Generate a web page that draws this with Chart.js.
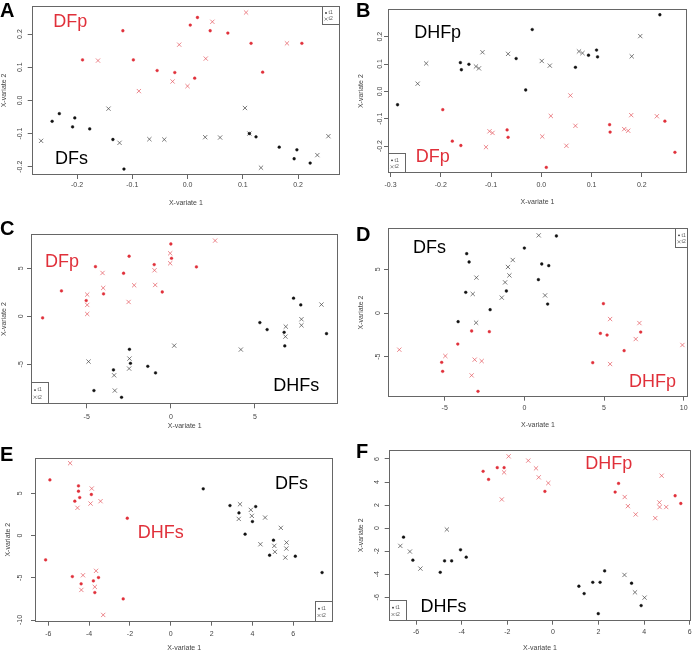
<!DOCTYPE html>
<html>
<head>
<meta charset="utf-8">
<script src="https://cdn.jsdelivr.net/npm/chart.js@4.4.1/dist/chart.umd.min.js"></script>
<style>
	body { margin: 0; background: #fff; width: 696px; height: 652px; position: relative; overflow: hidden; font-family: "Liberation Sans", Arial, sans-serif; }
	.panel { position: absolute; }
	.letter { position: absolute; font: bold 20px/20px "Liberation Sans", Arial, sans-serif; color: #000; }
</style>
</head>
<body>
<div class="panel" style="left:0;top:0"><canvas id="chartA" width="348" height="215"></canvas></div>
<div class="panel" style="left:348px;top:0"><canvas id="chartB" width="348" height="215"></canvas></div>
<div class="panel" style="left:0;top:215px"><canvas id="chartC" width="348" height="215"></canvas></div>
<div class="panel" style="left:348px;top:215px"><canvas id="chartD" width="348" height="215"></canvas></div>
<div class="panel" style="left:0;top:430px"><canvas id="chartE" width="348" height="222"></canvas></div>
<div class="panel" style="left:348px;top:430px"><canvas id="chartF" width="348" height="222"></canvas></div>
<div class="letter" style="left:0;top:0">A</div>
<div class="letter" style="left:356px;top:0">B</div>
<div class="letter" style="left:0;top:218px">C</div>
<div class="letter" style="left:356px;top:224px">D</div>
<div class="letter" style="left:0;top:444px">E</div>
<div class="letter" style="left:356px;top:441px">F</div>
<script>
// ---- data: [x-variate 1, x-variate 2] per sample ----
const aRedT1 = [[-0.19,0.122],[-0.117,0.21],[-0.098,0.122],[-0.055,0.09],[-0.023,0.084],[0.005,0.227],[0.013,0.067],[0.018,0.25],[0.041,0.21],[0.073,0.203],[0.115,0.172],[0.136,0.085],[0.207,0.172]];
const aRedT2 = [[-0.162,0.12],[-0.088,0.028],[-0.027,0.057],[-0.015,0.168],[0.0,0.043],[0.033,0.126],[0.045,0.237],[0.106,0.265],[0.18,0.172]];
const aBlackT1 = [[-0.245,-0.063],[-0.232,-0.04],[-0.208,-0.08],[-0.204,-0.053],[-0.177,-0.086],[-0.135,-0.118],[-0.115,-0.207],[0.112,-0.1],[0.124,-0.11],[0.166,-0.141],[0.198,-0.149],[0.193,-0.176],[0.222,-0.189]];
const aBlackT2 = [[-0.265,-0.122],[-0.143,-0.025],[-0.123,-0.128],[-0.069,-0.117],[-0.042,-0.118],[0.032,-0.111],[0.059,-0.112],[0.104,-0.023],[0.112,-0.1],[0.133,-0.203],[0.235,-0.165],[0.255,-0.108]];

const bBlackT1 = [[-0.286,-0.049],[-0.161,0.105],[-0.159,0.079],[-0.144,0.099],[-0.05,0.12],[-0.031,0.005],[-0.018,0.226],[0.068,0.088],[0.094,0.132],[0.11,0.151],[0.112,0.126],[0.236,0.28]];
const bBlackT2 = [[-0.246,0.028],[-0.229,0.102],[-0.117,0.143],[-0.13,0.091],[-0.124,0.084],[-0.066,0.137],[0.001,0.111],[0.017,0.094],[0.075,0.146],[0.082,0.14],[0.18,0.128],[0.197,0.202]];
const bRedT1 = [[-0.196,-0.067],[-0.177,-0.182],[-0.16,-0.198],[-0.068,-0.141],[-0.066,-0.168],[0.01,-0.278],[0.136,-0.122],[0.137,-0.149],[0.246,-0.109],[0.266,-0.223]];
const bRedT2 = [[-0.11,-0.204],[-0.103,-0.146],[-0.097,-0.152],[0.002,-0.165],[0.019,-0.09],[0.05,-0.199],[0.058,-0.015],[0.068,-0.126],[0.165,-0.138],[0.173,-0.144],[0.179,-0.087],[0.23,-0.091]];

const cRedT1 = [[-7.62,-0.17],[-6.5,2.64],[-5.03,1.63],[-4.48,5.17],[-4.0,2.33],[-2.81,4.48],[-2.48,6.25],[-0.99,5.38],[-0.51,2.53],[0.0,7.53],[0.04,6.04],[1.52,5.14]];
const cRedT2 = [[-4.97,2.26],[-4.97,1.18],[-4.97,0.24],[-4.06,4.51],[-4.02,2.95],[-2.51,1.49],[-2.18,3.23],[-0.97,4.79],[-0.93,3.26],[-0.04,6.56],[-0.04,5.52],[2.63,7.88]];
const cBlackT1 = [[-4.57,-7.74],[-3.41,-5.59],[-2.93,-8.44],[-2.46,-3.44],[-2.4,-4.9],[-1.37,-5.21],[-0.91,-5.9],[5.29,-0.66],[5.72,-1.39],[6.73,-1.67],[6.77,-3.09],[7.29,1.88],[7.72,1.18],[9.25,-1.81]];
const cBlackT2 = [[-4.89,-4.72],[-3.37,-6.15],[-3.33,-7.74],[-2.46,-4.41],[-2.48,-5.45],[0.2,-3.06],[4.16,-3.47],[6.83,-1.08],[6.81,-2.12],[7.76,-0.31],[7.76,-0.94],[8.95,1.22]];

const dBlackT1 = [[-4.16,-0.99],[-3.68,2.37],[-3.62,6.79],[-3.47,5.84],[-2.15,0.38],[-1.13,2.52],[0.0,7.44],[0.88,3.82],[1.09,5.61],[1.46,1.03],[1.53,5.42],[2.01,8.82]];
const dBlackT2 = [[-3.24,2.18],[-3.03,-1.11],[-3.01,4.05],[-1.42,1.76],[-1.21,3.51],[-0.94,4.31],[-1.03,5.27],[-0.73,6.07],[0.9,8.89],[1.3,2.02]];
const dRedT1 = [[-5.19,-5.65],[-5.13,-6.68],[-4.18,-3.55],[-3.31,-2.06],[-2.91,-8.97],[-2.2,-2.14],[4.29,-5.69],[4.77,-2.33],[4.96,1.07],[5.19,-2.52],[6.26,-4.31],[7.3,-2.18]];
const dRedT2 = [[-7.85,-4.2],[-4.96,-4.92],[-3.31,-7.14],[-3.12,-5.34],[-2.68,-5.5],[5.38,-0.69],[5.38,-5.84],[6.99,-2.98],[7.22,-1.15],[9.92,-3.66]];

const eRedT1 = [[-5.92,6.59],[-6.13,-2.88],[-4.7,4.07],[-4.52,5.88],[-4.52,5.25],[-4.46,4.5],[-3.89,4.86],[-2.13,2.05],[-4.82,-4.86],[-4.39,-5.72],[-3.79,-5.37],[-3.72,-6.75],[-3.54,-4.97],[-2.33,-7.5]];
const eRedT2 = [[-4.93,8.57],[-4.57,3.28],[-3.93,3.79],[-3.87,5.57],[-3.44,4.07],[-4.3,-4.7],[-4.38,-6.44],[-3.72,-6.08],[-3.66,-4.18],[-3.31,-9.4]];
const eBlackT1 = [[1.59,5.53],[2.9,3.55],[3.34,2.68],[3.64,0.16],[4.0,1.66],[4.16,3.43],[4.84,-2.33],[5.03,-0.55],[6.1,-2.45],[7.41,-4.38]];
const eBlackT2 = [[3.33,1.97],[3.39,3.71],[3.92,3.04],[3.97,2.33],[4.39,-1.03],[4.62,2.13],[5.07,-1.22],[5.1,-1.93],[5.39,0.91],[5.61,-2.61],[5.66,-1.54],[5.67,-0.83]];

const fRedT1 = [[-3.06,4.93],[-2.82,4.23],[-2.44,5.25],[-2.14,5.25],[-0.35,3.19],[2.73,3.13],[2.88,3.88],[5.36,2.81],[5.61,2.14]];
const fRedT2 = [[-2.24,2.49],[-2.14,4.84],[-1.94,6.23],[-1.08,5.86],[-0.74,5.19],[-0.62,4.41],[-0.2,3.91],[3.15,2.7],[3.29,1.91],[3.63,1.19],[4.49,0.87],[4.67,2.23],[4.68,1.83],[4.77,4.55],[4.97,1.83]];
const fBlackT1 = [[-6.55,-0.78],[-6.14,-2.78],[-4.94,-3.83],[-4.75,-2.84],[-4.44,-2.84],[-4.05,-1.88],[-3.8,-2.52],[1.14,-5.04],[1.37,-5.68],[1.75,-4.7],[2.07,-4.7],[2.27,-3.71],[1.99,-7.42],[3.45,-4.78],[3.87,-6.72]];
const fBlackT2 = [[-6.69,-1.54],[-6.27,-2.03],[-5.81,-3.51],[-4.65,-0.12],[3.14,-4.06],[3.6,-5.57],[4.02,-6.03]];

// tick values
const ticksA = { x: [-0.2, -0.1, 0, 0.1, 0.2], y: [-0.2, -0.1, 0, 0.1, 0.2] };
const ticksB = { x: [-0.3, -0.2, -0.1, 0, 0.1, 0.2], y: [-0.2, -0.1, 0, 0.1, 0.2] };
const ticksC = { x: [-5, 0, 5], y: [-5, 0, 5] };
const ticksD = { x: [-5, 0, 5, 10], y: [-5, 0, 5] };
const ticksE = { x: [-6, -4, -2, 0, 2, 4, 6], y: [-10, -5, 0, 5] };
const ticksF = { x: [-6, -4, -2, 0, 2, 4, 6], y: [-6, -4, -2, 0, 2, 4, 6] };

const RED = '#e0303a';
const BLACK = '#111';
const AXIS = '#666';
const FONT = '"Liberation Sans", Arial, sans-serif';

function toXY(arr) {
	return arr.map(p => ({ x: p[0], y: p[1] }));
}

function makeSets(redT1, redT2, blackT1, blackT2) {
	const dot = (data, c, label) => ({ label: label, data: toXY(data), pointStyle: 'circle', pointRadius: 1.4, pointBorderWidth: 0.4, pointBackgroundColor: c, pointBorderColor: c });
	const cross = (data, c, label) => ({ label: label, data: toXY(data), pointStyle: 'crossRot', pointRadius: 3, pointBorderWidth: 0.7, pointBorderColor: c, pointBackgroundColor: c });
	return [dot(blackT1, BLACK, 't1'), cross(blackT2, '#444', 't2'), dot(redT1, RED, 't1'), cross(redT2, '#e4545c', 't2')];
}

// box around plot, group labels, little t1/t2 legend
const decor = {
	id: 'decor',
	afterDatasetsDraw(chart, args, opts) {
		const { ctx, chartArea: a, scales } = chart;
		ctx.save();
		ctx.strokeStyle = AXIS;
		ctx.lineWidth = 1;
		const L = Math.round(a.left) + 0.5, R = Math.round(a.right) - 0.5;
		const T = Math.round(a.top) + 0.5, B = Math.round(a.bottom) - 0.5;
		ctx.strokeRect(L, T, R - L, B - T);

		ctx.font = '18px ' + FONT;
		ctx.textAlign = 'left';
		ctx.textBaseline = 'alphabetic';
		(opts.labels || []).forEach(function (l) {
			ctx.fillStyle = l.color;
			ctx.fillText(l.text, scales.x.getPixelForValue(l.x), scales.y.getPixelForValue(l.y));
		});

		const lg = opts.legend;
		const lx = lg.corner[1] === 'r' ? R - lg.w : L;
		const ly = lg.corner[0] === 't' ? T : B - lg.h;
		ctx.fillStyle = '#fff';
		ctx.fillRect(lx, ly, lg.w, lg.h);
		ctx.strokeStyle = '#666';
		ctx.strokeRect(lx, ly, lg.w, lg.h);
		const r1 = ly + lg.h * 0.36, r2 = ly + lg.h * 0.7;
		const mx = lx + 3.5;
		ctx.fillStyle = '#333';
		ctx.beginPath();
		ctx.arc(mx, r1, 0.9, 0, Math.PI * 2);
		ctx.fill();
		ctx.strokeStyle = '#555';
		ctx.lineWidth = 0.6;
		ctx.beginPath();
		ctx.moveTo(mx - 1.5, r2 - 1.5); ctx.lineTo(mx + 1.5, r2 + 1.5);
		ctx.moveTo(mx - 1.5, r2 + 1.5); ctx.lineTo(mx + 1.5, r2 - 1.5);
		ctx.stroke();
		ctx.font = '5px ' + FONT;
		ctx.fillStyle = '#555';
		ctx.textBaseline = 'middle';
		ctx.fillText('t1', mx + 2.5, r1);
		ctx.fillText('t2', mx + 2.5, r2);
		ctx.restore();
	}
};

const tickFont = { family: FONT, size: 7 };

function labelWidth(text) {
	const c = document.createElement('canvas').getContext('2d');
	c.font = '7px ' + FONT;
	return c.measureText(text).width;
}

function makePanel(id, cfg) {
	const canvas = document.getElementById(id);
	const H = canvas.height, W = canvas.width;
	const p = cfg.plot;
	const fmt = cfg.decimals ? (v => v.toFixed(cfg.decimals)) : (v => String(v));
	const widest = Math.max.apply(null, cfg.ticks.y.map(v => labelWidth(fmt(v))));
	const tl = 4;

	new Chart(canvas, {
		type: 'scatter',
		data: { datasets: cfg.sets },
		options: {
			responsive: false,
			animation: false,
			layout: { padding: { left: 0, bottom: 0, top: p.top, right: W - p.right } },
			plugins: {
				legend: { display: false },
				tooltip: { enabled: false },
				decor: { labels: cfg.labels, legend: cfg.legend }
			},
			scales: {
				x: {
					type: 'linear',
					min: cfg.range.x[0],
					max: cfg.range.x[1],
					afterBuildTicks: s => { s.ticks = cfg.ticks.x.map(v => ({ value: v })); },
					afterFit: s => { s.height = H - p.bottom; },
					grid: { display: true, drawOnChartArea: false, drawTicks: true, tickLength: tl, color: AXIS },
					border: { display: false },
					ticks: { font: tickFont, color: '#444', padding: cfg.xLab - tl - 4.2, maxRotation: 0, autoSkip: false, callback: v => fmt(v) },
					title: { display: true, text: 'X-variate 1', font: tickFont, color: '#444', padding: { top: 0, bottom: cfg.xTitle - 4.2 } }
				},
				y: {
					type: 'linear',
					min: cfg.range.y[0],
					max: cfg.range.y[1],
					afterBuildTicks: s => { s.ticks = cfg.ticks.y.map(v => ({ value: v })); },
					afterFit: s => { s.width = p.left; },
					grid: { display: true, drawOnChartArea: false, drawTicks: true, tickLength: tl, color: AXIS },
					border: { display: false },
					ticks: { font: tickFont, color: '#444', minRotation: 90, maxRotation: 90, crossAlign: 'center', autoSkip: false,
						padding: cfg.yLab - tl - widest / 2, callback: v => fmt(v) },
					title: { display: true, text: 'X-variate 2', font: tickFont, color: '#444', padding: { top: Math.max(0, cfg.yTitle - 4.2), bottom: 0 } }
				}
			}
		},
		plugins: [decor]
	});
}

makePanel('chartA', {
	sets: makeSets(aRedT1, aRedT2, aBlackT1, aBlackT2),
	ticks: ticksA, decimals: 1,
	range: { x: [-0.282, 0.276], y: [-0.225, 0.285] },
	plot: { left: 31.7, right: 340, top: 5, bottom: 175 },
	xLab: 10, xTitle: 12, yLab: 11.7, yTitle: 4,
	labels: [{ text: 'DFp', color: RED, x: -0.243, y: 0.222 }, { text: 'DFs', color: '#000', x: -0.24, y: -0.192 }],
	legend: { corner: 'tr', w: 17, h: 18 }
});

makePanel('chartB', {
	sets: makeSets(bRedT1, bRedT2, bBlackT1, bBlackT2),
	ticks: ticksB, decimals: 1,
	range: { x: [-0.305, 0.29], y: [-0.2985, 0.3] },
	plot: { left: 40, right: 339, top: 9.3, bottom: 173 },
	xLab: 12, xTitle: 13.3, yLab: 8.3, yTitle: 13.3,
	labels: [{ text: 'DHFp', color: '#000', x: -0.253, y: 0.196 }, { text: 'DFp', color: RED, x: -0.25, y: -0.258 }],
	legend: { corner: 'bl', w: 17, h: 19 }
});

makePanel('chartC', {
	sets: makeSets(cRedT1, cRedT2, cBlackT1, cBlackT2),
	ticks: ticksC, decimals: 0,
	range: { x: [-8.31, 9.95], y: [-9.17, 8.57] },
	plot: { left: 31, right: 338.3, top: 19, bottom: 189.3 },
	xLab: 12.4, xTitle: 4.2, yLab: 10.3, yTitle: 4,
	labels: [{ text: 'DFp', color: RED, x: -7.48, y: 5.1 }, { text: 'DHFs', color: '#000', x: 6.08, y: -7.78 }],
	legend: { corner: 'bl', w: 17, h: 21 }
});

makePanel('chartD', {
	sets: makeSets(dRedT1, dRedT2, dBlackT1, dBlackT2),
	ticks: ticksD, decimals: 0,
	range: { x: [-8.56, 10.27], y: [-9.58, 9.7] },
	plot: { left: 40, right: 340, top: 13.3, bottom: 181.7 },
	xLab: 11.6, xTitle: 5, yLab: 10, yTitle: 13.3,
	labels: [{ text: 'DFs', color: '#000', x: -6.99, y: 6.84 }, { text: 'DHFp', color: RED, x: 6.56, y: -8.44 }],
	legend: { corner: 'tr', w: 12, h: 19 }
});

makePanel('chartE', {
	sets: makeSets(eRedT1, eRedT2, eBlackT1, eBlackT2),
	ticks: ticksE, decimals: 0,
	range: { x: [-6.65, 7.96], y: [-10.2, 9.22] },
	plot: { left: 35, right: 333.3, top: 27.7, bottom: 191.7 },
	xLab: 12.3, xTitle: 4.2, yLab: 15, yTitle: 8.3,
	labels: [{ text: 'DFs', color: '#000', x: 5.11, y: 5.51 }, { text: 'DHFs', color: RED, x: -1.62, y: -0.33 }],
	legend: { corner: 'br', w: 17, h: 20 }
});

makePanel('chartF', {
	sets: makeSets(fRedT1, fRedT2, fBlackT1, fBlackT2),
	ticks: ticksF, decimals: 0,
	range: { x: [-7.2, 6.07], y: [-8.03, 6.78] },
	plot: { left: 40.7, right: 346.7, top: 20, bottom: 190.7 },
	xLab: 11, xTitle: 4.2, yLab: 11.4, yTitle: 13.3,
	labels: [{ text: 'DHFp', color: RED, x: 1.416, y: 5.13 }, { text: 'DHFs', color: '#000', x: -5.81, y: -7.28 }],
	legend: { corner: 'bl', w: 17, h: 20 }
});
</script>
</body>
</html>
